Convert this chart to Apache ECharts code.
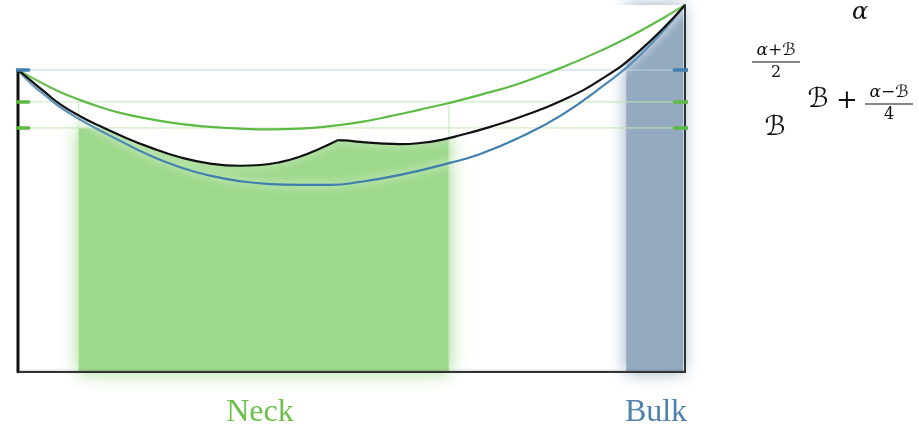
<!DOCTYPE html>
<html>
<head>
<meta charset="utf-8">
<script src="https://cdn.jsdelivr.net/npm/echarts@6/dist/echarts.min.js"></script>
<style>html,body{margin:0;padding:0;background:#fff}#c{width:919px;height:431px}</style>
</head>
<body>
<div id="c"></div>
<script>
// ---- data (x: 0..100 across the bar, y: 0..100 from floor to alpha) ----
const levelAlpha = 100;
const levelHalf = 82.3;      // (alpha+B)/2
const levelQuarter = 73.6;   // B + (alpha-B)/4
const levelB = 66.5;         // B
const neckRange = [9.1, 64.6];
const bulkRange = [91.2, 99.7];

const greenCurve = [[0,82.3],[3.3,79.0],[6.3,76.3],[9.3,74.1],[12.3,72.2],[15.3,70.6],[19.8,68.9],[24.3,67.6],[28.8,66.8],[33.3,66.3],[37.8,66.1],[42.3,66.3],[46.8,67.0],[51.3,68.1],[55.8,69.7],[60.3,71.5],[64.6,73.3],[69.3,75.5],[75.3,78.7],[81.3,82.8],[87.3,87.5],[93.3,92.9],[100,100]];
const blueCurve = [[0,82.3],[1.8,78.8],[4.0,75.5],[6.3,72.2],[9.3,68.8],[12.3,65.8],[15.3,63.0],[19.8,59.0],[24.3,55.8],[28.8,53.5],[33.3,52.0],[37.8,51.2],[42.3,51.0],[46.8,51.0],[51.3,51.8],[57.3,53.7],[64.6,56.9],[69.3,59.4],[75.3,64.0],[81.3,69.8],[87.3,77.4],[93.3,86.4],[100,100]];
const blackLeft = [[0,82.3],[1.8,79.6],[4.0,76.3],[6.3,73.0],[9.3,69.7],[12.3,67.0],[15.3,64.5],[19.8,61.2],[24.3,58.5],[28.8,56.8],[33.3,56.2],[36.3,56.4],[39.3,57.2],[42.3,58.7],[45.3,60.9],[48.0,63.2]];
const blackRight = [[48.0,63.2],[49.0,63.1],[51.3,62.7],[54.3,62.3],[57.3,62.1],[60.3,62.4],[63.3,63.2],[66.3,64.5],[70.8,66.8],[75.3,69.5],[81.3,73.8],[87.3,79.6],[93.3,87.7],[100,100]];

const regionLabels = ['Neck', 'Bulk'];

// ---- styles ----
const GREEN = '#5dbb45', BLUE = '#3f7fae', BLACK = '#111';
const GREEN_FILL = '#9dd98b', BLUE_FILL = '#93aac0';
const LIGHT_GREEN = '#bfe6b1', LIGHT_BLUE = '#b9d0e3';
const SMOOTH = 0.5;

function seg(data, color, width, extra) {
  return Object.assign({
    type: 'line', data: data, symbol: 'none', silent: true, animation: false,
    lineStyle: {color: color, width: width, cap: 'round'}
  }, extra || {});
}
function curve(data, color, z) {
  return {
    type: 'line', data: data, symbol: 'none', smooth: SMOOTH, z: z,
    silent: true, animation: false,
    lineStyle: {color: color, width: 2.2, shadowColor: 'rgba(255,255,255,1)', shadowBlur: 10}
  };
}
function whiteAbove(data) {
  return {
    type: 'line', data: data, symbol: 'none', smooth: SMOOTH, z: 2,
    silent: true, animation: false,
    lineStyle: {width: 0, opacity: 0},
    areaStyle: {color: '#fff', opacity: 1, origin: 'end'}
  };
}

const series = [];
// neck region
series.push({
  type: 'line', data: [], silent: true, animation: false, z: 1,
  markArea: {silent: true, data: [
    [{coord: [neckRange[0], levelB], itemStyle: {color: GREEN_FILL, shadowColor: GREEN_FILL, shadowBlur: 18}}, {coord: [neckRange[1], 0]}]
  ]}
});
// clear the neck fill above the black profile
series.push(whiteAbove(blackLeft));
series.push(whiteAbove(blackRight));
// bulk region
series.push({
  type: 'line', data: [], silent: true, animation: false, z: 3,
  markArea: {silent: true, data: [
    [{coord: [bulkRange[0], levelAlpha + 1.5], itemStyle: {color: BLUE_FILL, shadowColor: BLUE_FILL, shadowBlur: 16}}, {coord: [bulkRange[1], 0]}]
  ]}
});
// guide lines
series.push(seg([[0, levelHalf],[100, levelHalf]], LIGHT_BLUE, 1, {z: 4}));
series.push(seg([[0, levelQuarter],[100, levelQuarter]], LIGHT_GREEN, 1, {z: 4}));
series.push(seg([[0, levelB],[100, levelB]], LIGHT_GREEN, 1, {z: 4}));
series.push(seg([[neckRange[0], levelQuarter],[neckRange[0], 0]], LIGHT_GREEN, 1, {z: 4}));
series.push(seg([[neckRange[1], levelQuarter],[neckRange[1], 0]], LIGHT_GREEN, 1, {z: 4}));
// curves
series.push(curve(blueCurve, BLUE, 5));
series.push(curve(greenCurve, GREEN, 5));
series.push(curve(blackLeft, BLACK, 6));
series.push(curve(blackRight, BLACK, 6));
// axes
series.push(seg([[0, 0],[0, levelHalf]], '#111', 3, {z: 8}));
series.push(seg([[100, 0],[100, levelAlpha]], '#333', 2, {z: 8}));
series.push(seg([[0, 0],[100, 0]], '#333', 2.2, {z: 8, lineStyle: {color: '#333', width: 2.2, shadowColor: 'rgba(0,0,0,0.35)', shadowBlur: 3}}));
// ticks
const tl = 1.2, tr = 1.6;
[[levelHalf, BLUE],[levelQuarter, GREEN],[levelB, GREEN]].forEach(function (t) {
  series.push(seg([[-tl, t[0]],[tr, t[0]]], t[1], 3.5, {z: 9}));
  series.push(seg([[100 - tr, t[0]],[100 + tl + 0.3, t[0]]], t[1], 3.5, {z: 9}));
});

const serif = "'DejaVu Serif', 'DejaVu Sans', serif";
function txt(x, y, s, size, extra) {
  return {type: 'text', x: x, y: y, style: Object.assign({text: s, font: 'italic ' + size + 'px ' + serif, fill: '#111', textAlign: 'center', textVerticalAlign: 'middle'}, extra || {})};
}
function bar(x1, x2, y) {
  return {type: 'line', shape: {x1: x1, y1: y, x2: x2, y2: y}, style: {stroke: '#111', lineWidth: 1.1}};
}

const chart = echarts.init(document.getElementById('c'), null, {renderer: 'canvas'});
chart.setOption({
  animation: false,
  grid: {left: 18, right: 234, top: 5, bottom: 59},
  xAxis: {type: 'value', min: 0, max: 100, show: false},
  yAxis: {type: 'value', min: 0, max: 100, show: false},
  series: series,
  graphic: [
    txt(860, 13, 'α', 24),
    txt(776, 51, 'α+ℬ', 17),
    bar(752, 800, 62),
    txt(776, 73, '2', 16, {font: '16px ' + serif}),
    txt(818, 100, 'ℬ', 27),
    txt(847, 101, '+', 26, {font: '26px ' + serif}),
    txt(889, 93, 'α−ℬ', 17),
    bar(865, 913, 104),
    txt(889, 115, '4', 16, {font: '16px ' + serif}),
    txt(775, 128, 'ℬ', 27),
    {type: 'text', x: 260, y: 413, style: {text: regionLabels[0], font: '32px "Liberation Serif", serif', fill: '#6cc04a', textAlign: 'center', textVerticalAlign: 'middle'}},
    {type: 'text', x: 656, y: 413, style: {text: regionLabels[1], font: '32px "Liberation Serif", serif', fill: '#4f82ad', textAlign: 'center', textVerticalAlign: 'middle'}}
  ]
});
</script>
</body>
</html>
